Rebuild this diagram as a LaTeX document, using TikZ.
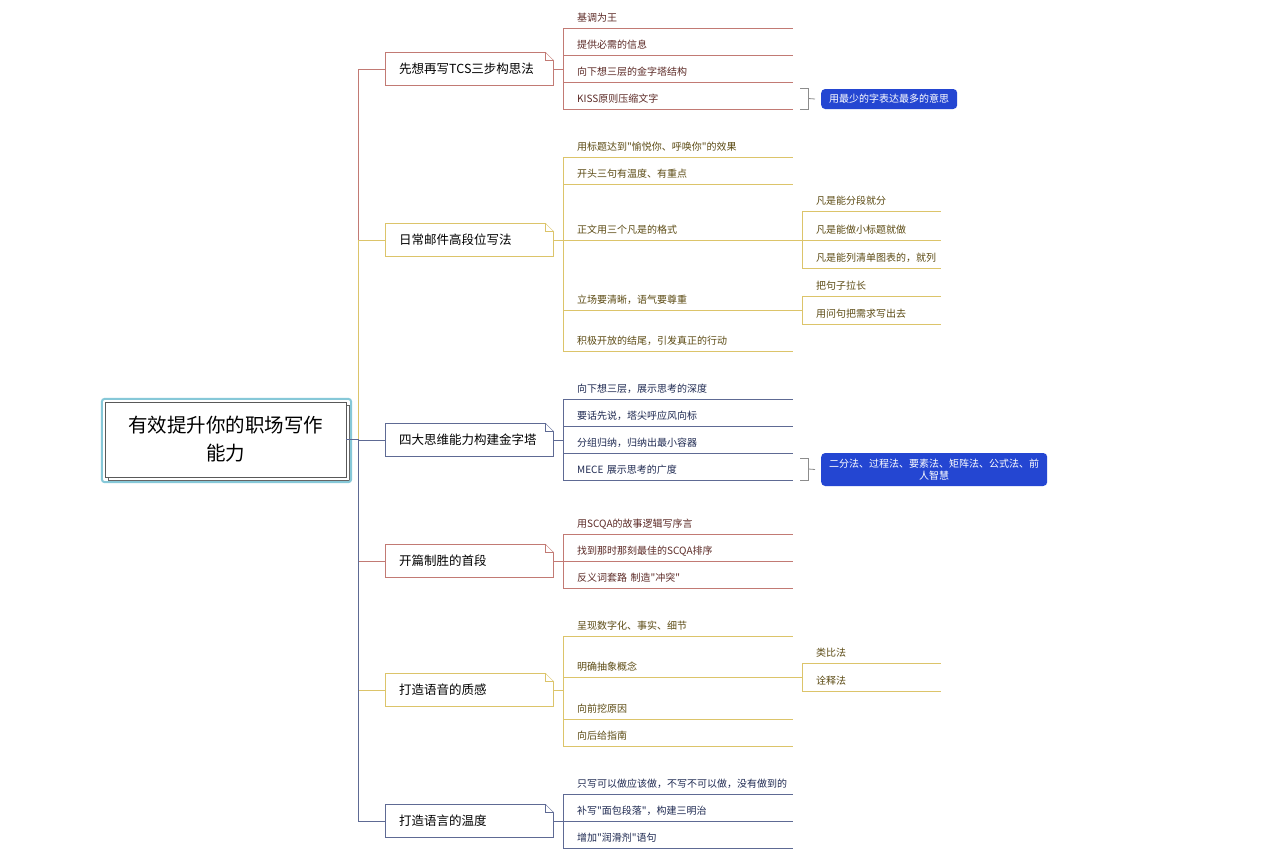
\documentclass[tikz,border=0pt]{standalone}
\usepackage{fontspec}
\setmainfont{Noto Sans CJK SC}[Ligatures = TeXOff]
\usetikzlibrary{calc,shadows}

\definecolor{lineR}{HTML}{C27A74}
\definecolor{textR}{HTML}{5C2A26}
\definecolor{lineY}{HTML}{DCC46A}
\definecolor{textY}{HTML}{5C4B14}
\definecolor{lineB}{HTML}{5E6A94}
\definecolor{textB}{HTML}{1F2A52}
\definecolor{rootC}{HTML}{86C8D8}
\definecolor{sumB}{HTML}{2446D2}

\begin{document}
\begin{tikzpicture}[x = 1pt, y = -1pt,
    every node/.style = {inner sep = 0pt},
    topic/.style = {draw, fill = white, anchor = west, minimum height = 33pt, text width = 140pt,
        inner xsep = 14pt, align = left, font = \fontsize{12.5}{15}\selectfont},
    sub/.style = {anchor = south west, text width = 230pt, align = left, text height = 8pt,
        text depth = 2pt, inner ysep = 4pt, font = \fontsize{10}{12}\selectfont,
        execute at begin node = \hspace*{14pt}},
    subsub/.style = {sub, text width = 139pt},
    summ/.style = {fill = sumB, text = white, rounded corners = 4pt, anchor = west, align = center,
        inner xsep = 8pt, inner ysep = 5pt, font = \fontsize{10}{12}\selectfont},
    brk/.style = {draw = black!45, line width = 0.8pt}]
    \fill[white] (0,0) rectangle (1280,860);
    \useasboundingbox (0,0) rectangle (1280,860);

    % root
    \node[draw = black!65, fill = white, minimum width = 241pt, minimum height = 75pt, align = center,
        font = \fontsize{19.5}{28}\selectfont,
        copy shadow = {shadow xshift = 3pt, shadow yshift = -3pt, draw = black!60, fill = white}]
        (root) at (225.5,439.5) {有效提升你的职场写作\\能力};
    \draw[rootC, line width = 2pt, rounded corners = 3pt]
        ($(root.north west)+(-3pt,3pt)$) rectangle ($(root.south east)+(5pt,-5pt)$);

    % main topics
    \node[topic, draw = lineR] (t1) at (385,69) {先想再写TCS三步构思法};
    \node[topic, draw = lineY] (t2) at (385,240) {日常邮件高段位写法};
    \node[topic, draw = lineB] (t3) at (385,440) {四大思维能力构建金字塔};
    \node[topic, draw = lineR] (t4) at (385,561) {开篇制胜的首段};
    \node[topic, draw = lineY] (t5) at (385,690) {打造语音的质感};
    \node[topic, draw = lineB] (t6) at (385,821) {打造语言的温度};
    \foreach \t/\c in {t1/lineR, t2/lineY, t3/lineB, t4/lineR, t5/lineY, t6/lineB} {
        \fill[white] ($(\t.north east)+(-8pt,0.6pt)$) -- ($(\t.north east)+(0.6pt,0.6pt)$)
            -- ($(\t.north east)+(0.6pt,-8pt)$) -- cycle;
        \draw[\c] ($(\t.north east)+(-8pt,0)$) -- ($(\t.north east)+(0,-8pt)$);
        \draw[\c] ($(\t.north east)+(-8pt,0)$) |- ($(\t.north east)+(0,-8pt)$);
        \draw[\c] (root.east) -- ++(12pt,0) |- (\t.west);
    }

    % branch 1
    \foreach \n/\y/\s in {1/28/基调为王, 2/55/提供必需的信息, 3/82/向下想三层的金字塔结构, 4/109/KISS原则压缩文字}
        \node[sub, text = textR] (a\n) at (563,\y) {\s};
    \foreach \n in {1,...,4}
        \draw[lineR] (a\n.south west) -- (a\n.south east);
    \draw[lineR] (a1.south west) -- (a4.south west);
    \draw[lineR] (t1.east) -- (t1.east -| a1.south west);
    \node[summ, text height = 8pt, text depth = 2pt] (s1) at (821,99) {用最少的字表达最多的意思};
    \draw[brk] ($(a4.south east)+(7pt,21pt)$) -- ++(8pt,0) -- ++(0,-21pt) -- ++(-8pt,0);
    \draw[brk] ($(a4.south east)+(15pt,10.5pt)$) -- ($(s1.west)+(-6pt,0)$);

    % branch 2
    \foreach \n/\y/\s in {1/157/用标题达到"愉悦你、呼唤你"的效果, 2/184/开头三句有温度、有重点,
        3/240/正文用三个凡是的格式, 4/310/立场要清晰，语气要尊重, 5/351/积极开放的结尾，引发真正的行动}
        \node[sub, text = textY] (b\n) at (563,\y) {\s};
    \foreach \n/\y/\s in {1/211/凡是能分段就分, 2/240/凡是能做小标题就做, 3/268/凡是能列清单图表的，就列}
        \node[subsub, text = textY] (c\n) at (802,\y) {\s};
    \foreach \n/\y/\s in {1/296/把句子拉长, 2/324/用问句把需求写出去}
        \node[subsub, text = textY] (d\n) at (802,\y) {\s};
    \foreach \n in {1,...,5}
        \draw[lineY] (b\n.south west) -- (b\n.south east);
    \foreach \n in {1,...,3}
        \draw[lineY] (c\n.south west) -- (c\n.south east);
    \foreach \n in {1,2}
        \draw[lineY] (d\n.south west) -- (d\n.south east);
    \draw[lineY] (b1.south west) -- (b5.south west);
    \draw[lineY] (t2.east) -- (t2.east -| b1.south west);
    \draw[lineY] (c1.south west) -- (c3.south west);
    \draw[lineY] (b3.south east) -- (c2.south west);
    \draw[lineY] (d1.south west) -- (d2.south west);
    \draw[lineY] (b4.south east) -- (b4.south east -| d1.south west);

    % branch 3
    \foreach \n/\y/\s in {1/399/向下想三层，展示思考的深度, 2/426/要话先说，塔尖呼应风向标,
        3/453/分组归纳，归纳出最小容器, 4/480/MECE 展示思考的广度}
        \node[sub, text = textB] (e\n) at (563,\y) {\s};
    \foreach \n in {1,...,4}
        \draw[lineB] (e\n.south west) -- (e\n.south east);
    \draw[lineB] (e1.south west) -- (e4.south west);
    \draw[lineB] (t3.east) -- (t3.east -| e1.south west);
    \node[summ, text width = 210pt, minimum height = 33pt] (s2) at (821,469.5)
        {二分法、过程法、要素法、矩阵法、公式法、前\\人智慧};
    \draw[brk] ($(e4.south east)+(7pt,22pt)$) -- ++(8pt,0) -- ++(0,-22pt) -- ++(-8pt,0);
    \draw[brk] ($(e4.south east)+(15pt,11pt)$) -- ($(s2.west)+(-6pt,0)$);

    % branch 4
    \foreach \n/\y/\s in {1/534/用SCQA的故事逻辑写序言, 2/561/找到那时那刻最佳的SCQA排序, 3/588/反义词套路 制造"冲突"}
        \node[sub, text = textR] (f\n) at (563,\y) {\s};
    \foreach \n in {1,...,3}
        \draw[lineR] (f\n.south west) -- (f\n.south east);
    \draw[lineR] (f1.south west) -- (f3.south west);
    \draw[lineR] (t4.east) -- (t4.east -| f1.south west);

    % branch 5
    \foreach \n/\y/\s in {1/636/呈现数字化、事实、细节, 2/677/明确抽象概念, 3/719/向前挖原因, 4/746/向后给指南}
        \node[sub, text = textY] (g\n) at (563,\y) {\s};
    \foreach \n/\y/\s in {1/663/类比法, 2/691/诠释法}
        \node[subsub, text = textY] (h\n) at (802,\y) {\s};
    \foreach \n in {1,...,4}
        \draw[lineY] (g\n.south west) -- (g\n.south east);
    \foreach \n in {1,2}
        \draw[lineY] (h\n.south west) -- (h\n.south east);
    \draw[lineY] (g1.south west) -- (g4.south west);
    \draw[lineY] (t5.east) -- (t5.east -| g1.south west);
    \draw[lineY] (h1.south west) -- (h2.south west);
    \draw[lineY] (g2.south east) -- (g2.south east -| h1.south west);

    % branch 6
    \foreach \n/\y/\s in {1/794/只写可以做应该做，不写不可以做，没有做到的, 2/821/补写"面包段落"，构建三明治, 3/848/增加"润滑剂"语句}
        \node[sub, text = textB] (k\n) at (563,\y) {\s};
    \foreach \n in {1,...,3}
        \draw[lineB] (k\n.south west) -- (k\n.south east);
    \draw[lineB] (k1.south west) -- (k3.south west);
    \draw[lineB] (t6.east) -- (t6.east -| k1.south west);
\end{tikzpicture}
\end{document}
